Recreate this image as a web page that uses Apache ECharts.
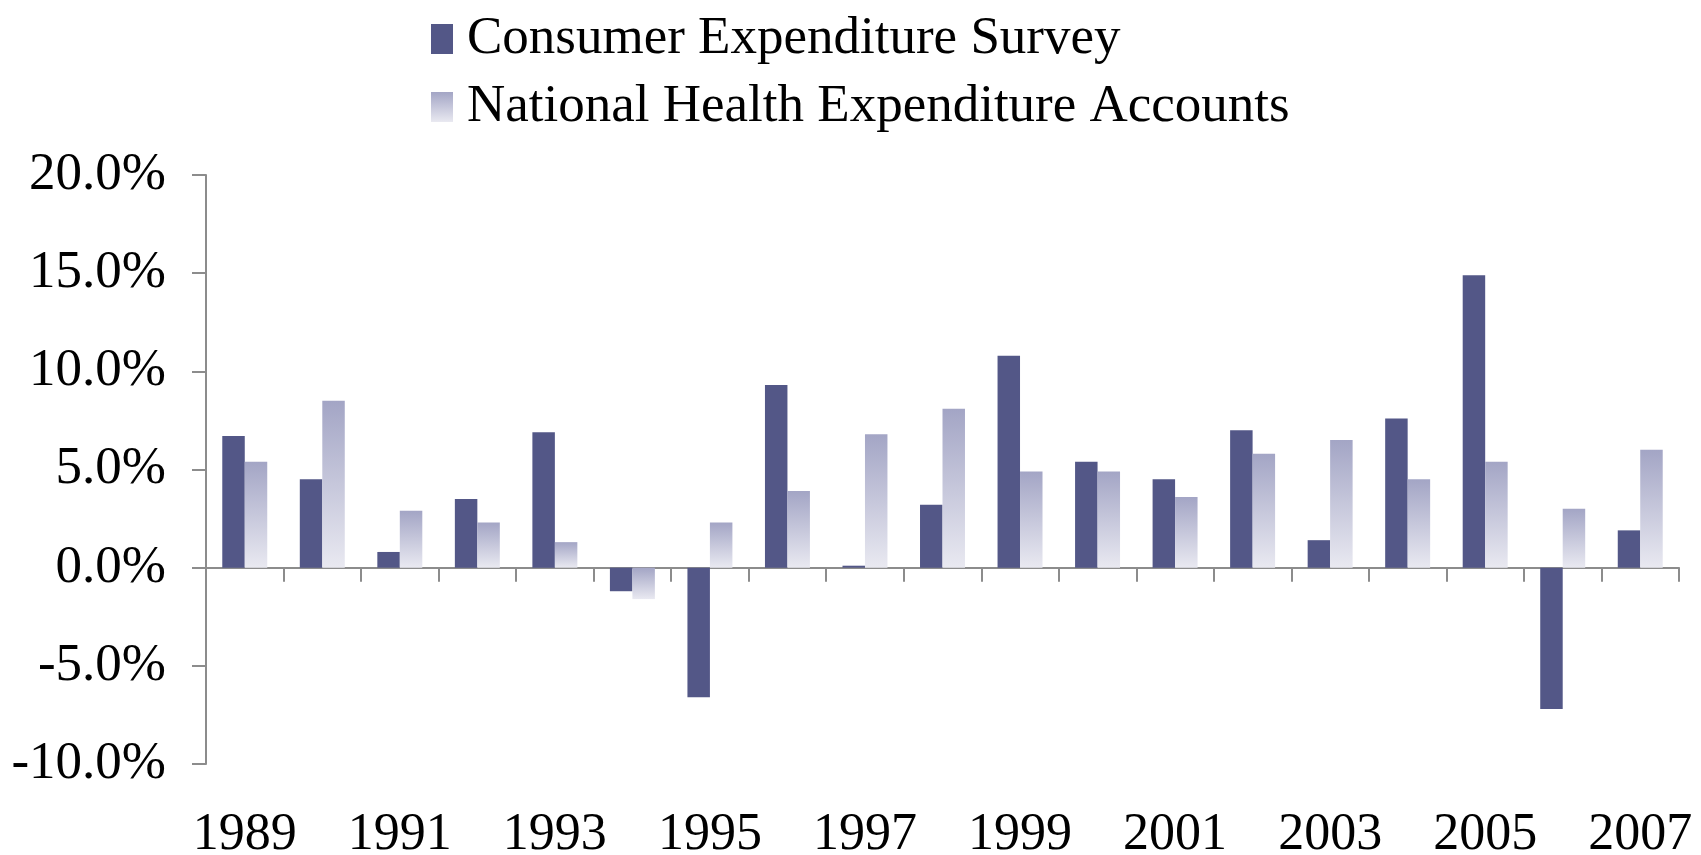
<!DOCTYPE html>
<html>
<head>
<meta charset="utf-8">
<script src="https://cdn.jsdelivr.net/npm/echarts@6/dist/echarts.min.js"></script>
<style>
  html, body { margin: 0; padding: 0; background: #fff; }
  #chart { width: 1701px; height: 855px; }
</style>
</head>
<body>
<div id="chart"></div>
<script>
// years on the x axis
const years = ['1989', '1990', '1991', '1992', '1993', '1994', '1995', '1996', '1997', '1998',
  '1999', '2000', '2001', '2002', '2003', '2004', '2005', '2006', '2007'];

// annual growth, percent
const cesValues = [6.7, 4.5, 0.8, 3.5, 6.9, -1.2, -6.6, 9.3, 0.1, 3.2,
  10.8, 5.4, 4.5, 7.0, 1.4, 7.6, 14.9, -7.2, 1.9];
const nheaValues = [5.4, 8.5, 2.9, 2.3, 1.3, -1.6, 2.3, 3.9, 6.8, 8.1,
  4.9, 4.9, 3.6, 5.8, 6.5, 4.5, 5.4, 3.0, 6.0];

const seriesNames = ['Consumer Expenditure Survey', 'National Health Expenditure Accounts'];

const font = '"Liberation Serif", "Times New Roman", serif';
const axisGrey = '#8c8c8c';

const darkColor = '#535787';
const lightColor = new echarts.graphic.LinearGradient(0, 0, 0, 1, [
  { offset: 0, color: '#a3a5c5' },
  { offset: 1, color: '#e9e9f1' }
]);

const chart = echarts.init(document.getElementById('chart'));

chart.setOption({
  animation: false,
  backgroundColor: '#fff',
  legend: {
    orient: 'vertical',
    left: 426,
    top: 6,
    itemWidth: 22,
    itemHeight: 30,
    itemGap: 12,
    icon: 'rect',
    textStyle: {
      fontFamily: font,
      fontSize: 53,
      lineHeight: 56,
      color: '#000',
      padding: [0, 0, 0, 9]
    },
    data: seriesNames
  },
  grid: {
    left: 206,
    right: 22,
    top: 175,
    bottom: 91,
    containLabel: false,
    outerBoundsMode: 'none'
  },
  xAxis: [
    {
      // zero line with category ticks
      type: 'category',
      data: years,
      axisLine: { onZero: true, lineStyle: { color: axisGrey, width: 2 } },
      axisTick: { show: true, length: 14, interval: 0, lineStyle: { color: axisGrey, width: 2 } },
      axisLabel: { show: false },
      splitLine: { show: false }
    },
    {
      // year labels along the bottom
      type: 'category',
      data: years,
      position: 'bottom',
      axisLine: { show: false, onZero: false },
      axisTick: { show: false },
      axisLabel: {
        interval: 1,
        margin: 45,
        fontFamily: font,
        fontSize: 52,
        color: '#000'
      },
      splitLine: { show: false }
    }
  ],
  yAxis: {
    type: 'value',
    min: -10,
    max: 20,
    interval: 5,
    axisLine: { show: true, lineStyle: { color: axisGrey, width: 2 } },
    axisTick: { show: true, length: 14, lineStyle: { color: axisGrey, width: 2 } },
    axisLabel: {
      margin: 40,
      fontFamily: font,
      fontSize: 53,
      color: '#000',
      formatter: v => v.toFixed(1) + '%'
    },
    splitLine: { show: false }
  },
  series: [
    {
      name: seriesNames[0],
      type: 'bar',
      xAxisIndex: 0,
      data: cesValues,
      barGap: '0%',
      barCategoryGap: '42%',
      itemStyle: { color: darkColor }
    },
    {
      name: seriesNames[1],
      type: 'bar',
      xAxisIndex: 0,
      data: nheaValues,
      itemStyle: { color: lightColor }
    }
  ]
});
</script>
</body>
</html>
